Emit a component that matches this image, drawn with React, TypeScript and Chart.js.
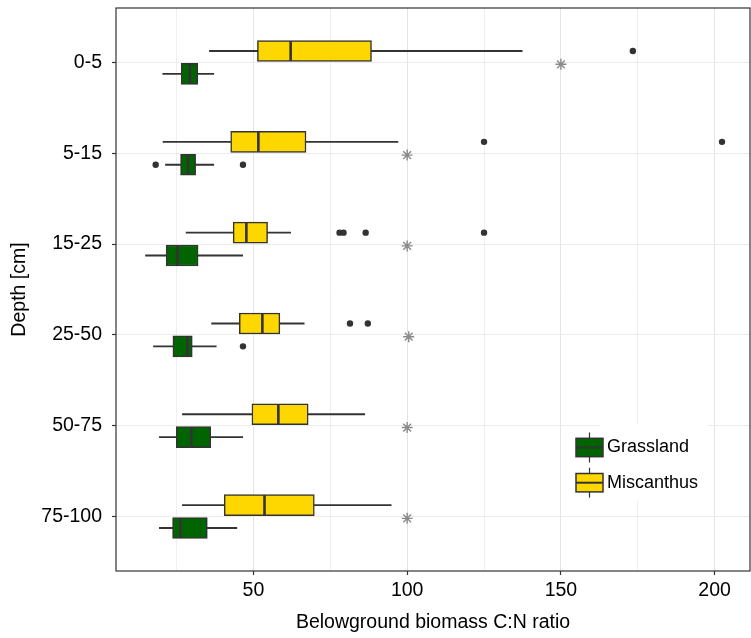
import React, { useEffect, useRef } from 'react';
import { Chart, registerables } from 'chart.js';

Chart.register(...registerables);

// ---- data ----
const depths = ['0-5', '5-15', '15-25', '25-50', '50-75', '75-100'];
const seriesNames = ['Grassland', 'Miscanthus'];

const grassLow = [20.5, 21.4, 14.9, 17.5, 19.4, 19.4];
const grassQ1 = [26.5, 26.3, 21.6, 23.8, 24.9, 23.7];
const grassMed = [29.3, 28.7, 25.3, 28.5, 29.8, 26.3];
const grassQ3 = [31.9, 31.2, 32.0, 30.1, 36.1, 35.0];
const grassHigh = [37.1, 37.1, 46.5, 37.9, 46.5, 44.6];
const grassOutliers: number[][] = [[], [18.2, 46.6], [], [46.6], [], []];

const miscLow = [35.7, 20.6, 28.1, 36.4, 26.9, 26.9];
const miscQ1 = [51.3, 42.6, 43.4, 45.4, 49.5, 40.5];
const miscMed = [62.1, 51.6, 47.7, 52.9, 58.1, 53.6];
const miscQ3 = [88.4, 67.1, 54.6, 58.6, 67.8, 69.8];
const miscHigh = [137.4, 97.0, 62.1, 66.5, 86.2, 94.8];
const miscOutliers: number[][] = [[173.4], [125.0, 202.4], [78.0, 79.3, 86.5, 125.0], [81.4, 87.2], [], []];

const signifValues = [150, 100, 100, 100.5, 100, 100];

const xTicks = [25, 50, 75, 100, 125, 150, 175, 200];
const xLabelTicks = [50, 100, 150, 200];

// ---- style ----
const FONT = "'Liberation Sans', Arial, Helvetica, sans-serif";
const FS = 19.5;
const GREEN = '#006400';
const GOLD = '#FFD700';
const LINE = '#333333';
const DODGE = 0.126;

const framePlugin = {
  id: 'frameAndLegend',
  afterDatasetsDraw(chart: any) {
    const { ctx, chartArea: a } = chart;
    ctx.save();
    // legend background
    ctx.fillStyle = '#ffffff';
    ctx.fillRect(600, 424, 108, 76);
    const keys = [
      { name: seriesNames[0], fill: GREEN, cy: 447.5 },
      { name: seriesNames[1], fill: GOLD, cy: 482.7 },
    ];
    keys.forEach((k) => {
      const cx = 589.5;
      ctx.strokeStyle = LINE;
      ctx.lineWidth = 1.2;
      ctx.beginPath();
      ctx.moveTo(cx, k.cy - 15);
      ctx.lineTo(cx, k.cy + 15);
      ctx.stroke();
      ctx.fillStyle = k.fill;
      ctx.fillRect(576, k.cy - 9.2, 27, 18.4);
      ctx.lineWidth = 1.5;
      ctx.strokeRect(576, k.cy - 9.2, 27, 18.4);
      ctx.beginPath();
      ctx.lineWidth = 2;
      ctx.moveTo(576, k.cy);
      ctx.lineTo(603, k.cy);
      ctx.stroke();
      ctx.fillStyle = '#000';
      ctx.font = `18px ${FONT}`;
      ctx.textBaseline = 'middle';
      ctx.textAlign = 'left';
      ctx.fillText(k.name, 607, k.cy);
    });
    // panel frame
    ctx.strokeStyle = LINE;
    ctx.lineWidth = 1.2;
    ctx.strokeRect(a.left, a.top, a.right - a.left, a.bottom - a.top);
    ctx.restore();
  },
};

const zeroPad = (scale: any) => {
  scale.paddingTop = 0;
  scale.paddingBottom = 0;
  scale.paddingLeft = 0;
  scale.paddingRight = 0;
};

export default function App() {
  const ref = useRef<HTMLCanvasElement>(null);

  useEffect(() => {
    const canvas = ref.current;
    if (!canvas) return;

    const whiskers: any[] = [];
    const miscBoxes: any[] = [];
    const grassBoxes: any[] = [];
    const medians: any[] = [];
    const outliers: any[] = [];
    const signif: any[] = [];

    depths.forEach((_, i) => {
      const ym = i - DODGE;
      const yg = i + DODGE;
      whiskers.push({ y: ym, x: [miscLow[i], miscHigh[i]] });
      whiskers.push({ y: yg, x: [grassLow[i], grassHigh[i]] });
      miscBoxes.push({ y: ym, x: [miscQ1[i], miscQ3[i]] });
      grassBoxes.push({ y: yg, x: [grassQ1[i], grassQ3[i]] });
      medians.push({ x: miscMed[i], y: ym });
      medians.push({ x: grassMed[i], y: yg });
      miscOutliers[i].forEach((v) => outliers.push({ x: v, y: ym }));
      grassOutliers[i].forEach((v) => outliers.push({ x: v, y: yg }));
      signif.push({ x: signifValues[i], y: i + 0.02 });
    });

    const chart = new Chart(canvas, {
      type: 'scatter',
      data: {
        datasets: [
          {
            type: 'bar',
            label: 'whiskers',
            indexAxis: 'y',
            grouped: false,
            data: whiskers,
            barThickness: 1.2,
            backgroundColor: LINE,
            borderWidth: 0,
            order: 6,
          } as any,
          {
            type: 'bar',
            label: seriesNames[1],
            indexAxis: 'y',
            grouped: false,
            data: miscBoxes,
            barThickness: 21,
            backgroundColor: GOLD,
            borderColor: LINE,
            borderWidth: 1.5,
            borderSkipped: false,
            order: 5,
          } as any,
          {
            type: 'bar',
            label: seriesNames[0],
            indexAxis: 'y',
            grouped: false,
            data: grassBoxes,
            barThickness: 21,
            backgroundColor: GREEN,
            borderColor: LINE,
            borderWidth: 1.5,
            borderSkipped: false,
            order: 4,
          } as any,
          {
            type: 'scatter',
            label: 'medians',
            data: medians,
            pointStyle: 'line',
            pointRotation: 90,
            pointRadius: 10,
            pointBorderColor: LINE,
            pointBorderWidth: 2.6,
            order: 3,
          } as any,
          {
            type: 'scatter',
            label: 'outliers',
            data: outliers,
            pointStyle: 'circle',
            pointRadius: 3.2,
            pointBackgroundColor: LINE,
            pointBorderWidth: 0,
            order: 2,
          } as any,
          {
            type: 'scatter',
            label: 'signif',
            data: signif,
            pointStyle: 'star',
            pointRadius: 5.5,
            pointBorderColor: '#8a8a8a',
            pointBackgroundColor: '#8a8a8a',
            pointBorderWidth: 1.4,
            order: 1,
          } as any,
        ],
      },
      options: {
        animation: false,
        responsive: true,
        maintainAspectRatio: false,
        events: [],
        layout: { autoPadding: false, padding: { top: 8, right: 1, left: 0, bottom: 0 } },
        plugins: { legend: { display: false }, tooltip: { enabled: false } },
        scales: {
          x: {
            type: 'linear',
            position: 'bottom',
            min: 5.3,
            max: 211.5,
            offset: false,
            afterBuildTicks: (scale: any) => {
              scale.ticks = xTicks.map((v) => ({ value: v }));
            },
            afterFit: (scale: any) => {
              scale.height = 67;
              zeroPad(scale);
            },
            border: { display: false },
            grid: {
              offset: false,
              color: (c: any) => (c.tick && xLabelTicks.includes(c.tick.value) ? '#e4e4e4' : '#efefef'),
              lineWidth: 1,
              tickLength: 4,
              tickColor: (c: any) => (c.tick && xLabelTicks.includes(c.tick.value) ? LINE : 'rgba(0,0,0,0)'),
              tickWidth: 1.2,
            },
            ticks: {
              autoSkip: false,
              maxRotation: 0,
              padding: 4,
              color: '#000',
              font: { family: FONT, size: FS },
              callback: (v: any) => (xLabelTicks.includes(Number(v)) ? String(v) : ''),
            },
            title: {
              display: true,
              text: 'Belowground biomass C:N ratio',
              color: '#000',
              font: { family: FONT, size: FS },
              padding: { top: 0, bottom: 3.3 },
            },
          },
          y: {
            type: 'linear',
            position: 'left',
            min: -0.6,
            max: 5.6,
            reverse: true,
            offset: false,
            afterBuildTicks: (scale: any) => {
              scale.ticks = depths.map((_, i) => ({ value: i }));
            },
            afterFit: (scale: any) => {
              scale.width = 116;
              zeroPad(scale);
            },
            border: { display: false },
            grid: {
              offset: false,
              color: '#ebebeb',
              lineWidth: 1,
              tickLength: 4,
              tickColor: LINE,
              tickWidth: 1.2,
            },
            ticks: {
              autoSkip: false,
              padding: 10,
              color: '#000',
              font: { family: FONT, size: FS },
              callback: (v: any) => depths[Number(v)] ?? '',
            },
            title: {
              display: true,
              text: 'Depth [cm]',
              color: '#000',
              font: { family: FONT, size: FS },
              padding: { top: 8.3, bottom: 0 },
            },
          },
        },
      } as any,
      plugins: [framePlugin],
    });

    return () => chart.destroy();
  }, []);

  return (
    <div style={{ position: 'absolute', left: 0, top: 0, width: 751, height: 638, background: '#fff' }}>
      <canvas ref={ref} />
    </div>
  );
}
